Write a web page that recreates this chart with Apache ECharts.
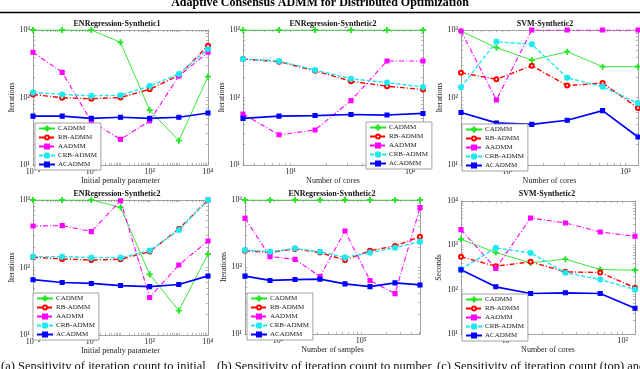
<!DOCTYPE html>
<html>
<head>
<meta charset="utf-8">
<script src="https://cdn.jsdelivr.net/npm/echarts@6/dist/echarts.min.js"></script>
<style>
  html, body { margin: 0; padding: 0; background: #fff; }
  #chart { width: 640px; height: 369px; }
</style>
</head>
<body>
<div id="chart"></div>
<script>
const seriesNames = ["CADMM", "RB-ADMM", "AADMM", "CRB-ADMM", "ACADMM"];

const penaltyX = [0.01, 0.1, 1, 10, 100, 1000, 10000];
const coresX = [4, 8, 16, 32, 64, 128];
const samplesX = [4000, 8000, 16000, 32000, 64000, 128000, 256000, 512000];

// one row per method, same order as seriesNames
const enr1Penalty = [
  [1000, 1000, 1000, 656, 65, 23, 204],
  [111, 99, 96, 100, 132, 213, 585],
  [467, 236, 44, 24, 45, 208, 467],
  [119, 111, 106, 108, 148, 223, 523],
  [53, 53, 49, 51, 49, 51, 59],
];
const enr2Cores = [
  [1000, 1000, 1000, 1000, 1000, 1000],
  [372, 340, 249, 174, 147, 131],
  [57, 28, 33, 90, 347, 347],
  [372, 347, 255, 190, 166, 143],
  [49, 53, 54, 56, 55, 58],
];
const svmCoresIters = [
  [960, 547, 359, 477, 286, 286],
  [233, 186, 296, 150, 164, 70],
  [966, 92, 1000, 1000, 1000, 1000],
  [142, 671, 614, 196, 145, 82],
  [60, 42, 40, 46, 64, 26],
];
const enr2Penalty = [
  [1000, 1000, 1000, 778, 79, 23, 158],
  [142, 134, 129, 132, 172, 372, 1000],
  [412, 417, 340, 977, 36, 109, 247],
  [145, 145, 140, 140, 178, 359, 1000],
  [66, 60, 58, 54, 52, 56, 75],
];
const enr2Samples = [
  [1000, 1000, 1000, 1000, 1000, 1000, 1000, 1000],
  [175, 165, 186, 164, 127, 175, 206, 284],
  [532, 143, 130, 72, 344, 63, 40, 769],
  [179, 169, 190, 169, 139, 164, 194, 239],
  [73, 63, 65, 66, 56, 51, 58, 54],
];
const svmCoresSeconds = [
  [1370, 687, 403, 487, 285, 275],
  [550, 339, 424, 252, 244, 110],
  [2264, 300, 4140, 3200, 2000, 1600],
  [290, 875, 676, 240, 170, 101],
  [280, 116, 82, 85, 82, 38],
];

const serif = "Liberation Serif, DejaVu Serif, serif";
const boxColor = "#8a8a8a";

const plusPath = "path://M4.3,0H5.7V4.3H10V5.7H5.7V10H4.3V5.7H0V4.3H4.3Z";
const starPath = "path://M4.3,0H5.7V4.3H10V5.7H5.7V10H4.3V5.7H0V4.3H4.3Z"
  + "M1.5,0.6L5,4.1L8.5,0.6L9.4,1.5L5.9,5L9.4,8.5L8.5,9.4L5,5.9L1.5,9.4L0.6,8.5L4.1,5L0.6,1.5Z";

const styles = [
  { color: "#22e622", width: 0.9, type: "solid", symbol: plusPath, size: 5 },
  { color: "#ff0000", width: 1.4, type: [5, 2, 1, 2], symbol: "emptyCircle", size: 4 },
  { color: "#ff00ff", width: 1.1, type: [5, 2, 1, 2], symbol: "rect", size: 4 },
  { color: "#1ee8f0", width: 1.4, type: [4, 2], symbol: starPath, size: 5 },
  { color: "#0000ff", width: 1.7, type: "solid", symbol: "rect", size: 4 },
];

const supMap = { "-": "⁻", "0": "⁰", "1": "¹", "2": "²", "3": "³", "4": "⁴", "5": "⁵" };

function logLabel(v) {
  var e = Math.round(Math.log10(v));
  if (Math.abs(Math.log10(v) - e) > 1e-6) return "";
  return "10" + String(e).split("").map((c) => supMap[c]).join("");
}

function tickVals(min, max) {
  var out = [];
  for (var d = Math.floor(Math.log10(min)); d <= Math.ceil(Math.log10(max)); d++) {
    for (var k = 1; k < 10; k++) {
      var v = k * Math.pow(10, d);
      if (v >= min * 0.999 && v <= max * 1.001) out.push(v);
    }
  }
  return out;
}

const panels = [
  { title: "ENRegression-Synthetic1", tx: 117, ty: 24, grid: [33, 30, 175, 135], x: penaltyX, rows: enr1Penalty,
    xr: [0.01, 10000], xl: [0.01, 1, 100, 10000], yr: [10, 1000], xname: "Initial penalty parameter", yname: "Iterations",
    ygap: 15, legend: [35, 123] },
  { title: "ENRegression-Synthetic2", tx: 333, ty: 24, grid: [243, 30, 180, 135], x: coresX, rows: enr2Cores,
    xr: [4, 128], xl: [10, 100], yr: [10, 1000], xname: "Number of cores", yname: "Iterations",
    ygap: 12, legend: [366, 122] },
  { title: "SVM-Synthetic2", tx: 545, ty: 24, grid: [461, 30, 177, 135], x: coresX, rows: svmCoresIters,
    xr: [4, 128], xl: [10, 100], yr: [10, 1000], xname: "Number of cores", yname: "Iterations",
    ygap: 14, legend: [462, 124] },
  { title: "ENRegression-Synthetic2", tx: 117, ty: 194, grid: [33, 200, 175, 135], x: penaltyX, rows: enr2Penalty,
    xr: [0.01, 10000], xl: [0.01, 1, 100, 10000], yr: [10, 1000], xname: "Initial penalty parameter", yname: "Iterations",
    ygap: 15, legend: [33, 293] },
  { title: "ENRegression-Synthetic2", tx: 332, ty: 194, grid: [245, 200, 175, 134], x: samplesX, rows: enr2Samples,
    xr: [4000, 512000], xl: [10000, 100000], yr: [10, 1000], xname: "Number of samples", yname: "Iterations",
    ygap: 14, legend: [247, 293] },
  { title: "SVM-Synthetic2", tx: 547, ty: 194, grid: [461, 201, 174, 133], x: coresX, rows: svmCoresSeconds,
    xr: [4, 128], xl: [10, 100], yr: [10, 10000], xname: "Number of cores", yname: "Seconds",
    ygap: 14, legend: [462, 294] },
];

var grids = [], xAxes = [], yAxes = [], series = [], legends = [], graphics = [];

function logAxis(gridIndex, pos, range, labels, name, gap) {
  return {
    type: "log",
    logBase: 10,
    gridIndex: gridIndex,
    position: pos,
    min: range[0],
    max: range[1],
    name: name || "",
    nameLocation: "middle",
    nameGap: gap || 0,
    nameTextStyle: { fontFamily: serif, fontSize: 8, color: "#222" },
    axisLine: { show: true, lineStyle: { color: boxColor, width: 0.8 } },
    axisTick: {
      show: true, inside: true, length: 2.2,
      customValues: tickVals(range[0], range[1]),
      lineStyle: { color: boxColor, width: 0.6 },
    },
    axisLabel: {
      show: !!labels,
      customValues: labels || [],
      formatter: logLabel,
      fontFamily: serif, fontSize: 8, color: "#222", margin: 3,
    },
    splitLine: { show: false },
    minorTick: { show: false },
  };
}

panels.forEach(function(p, gi) {
  grids.push({ left: p.grid[0], top: p.grid[1], width: p.grid[2], height: p.grid[3], show: false });
  var xi = xAxes.length, yi = yAxes.length;
  xAxes.push(logAxis(gi, "bottom", p.xr, p.xl, p.xname, 12));
  xAxes.push(logAxis(gi, "top", p.xr, null));
  var ylab = [];
  for (var v = p.yr[0]; v <= p.yr[1] * 1.001; v *= 10) ylab.push(v);
  yAxes.push(logAxis(gi, "left", p.yr, ylab, p.yname, p.ygap));
  yAxes.push(logAxis(gi, "right", p.yr, null));

  p.rows.forEach(function(row, k) {
    var s = styles[k];
    series.push({
      name: seriesNames[k],
      type: "line",
      xAxisIndex: xi,
      yAxisIndex: yi,
      data: p.x.map((x, i) => [x, row[i]]),
      symbol: s.symbol,
      symbolSize: s.size,
      showAllSymbol: true,
      color: s.color,
      lineStyle: { color: s.color, width: s.width, type: s.type },
      itemStyle: { color: s.color, borderColor: s.color, borderWidth: 1.1 },
      emphasis: { disabled: true },
      animation: false,
    });
  });

  legends.push({
    orient: "vertical",
    left: p.legend[0],
    top: p.legend[1],
    data: seriesNames,
    itemWidth: 16,
    itemHeight: 5,
    itemGap: 2,
    padding: [2, 4, 2, 3],
    backgroundColor: "#fff",
    borderColor: boxColor,
    borderWidth: 0.8,
    borderRadius: 0,
    selectedMode: false,
    textStyle: { fontFamily: serif, fontSize: 7, color: "#222", padding: [0, 0, 0, -2] },
  });

  graphics.push({
    type: "text", x: p.tx, y: p.ty,
    style: { text: p.title, font: "bold 8px " + serif, fill: "#111", align: "center", verticalAlign: "middle" },
  });
});

graphics.push({
  type: "text", x: 320, y: -3,
  style: { text: "Adaptive Consensus ADMM for Distributed Optimization", font: "bold 12px " + serif,
    fill: "#000", align: "center", verticalAlign: "top" },
});
graphics.push({
  type: "line", shape: { x1: 0, y1: 12.5, x2: 640, y2: 12.5 },
  style: { stroke: "#000", lineWidth: 1.3 },
});
[
  [1, "(a) Sensitivity of iteration count to initial"],
  [217, "(b) Sensitivity of iteration count to number"],
  [437, "(c) Sensitivity of iteration count (top) and"],
].forEach(function(c) {
  graphics.push({
    type: "text", x: c[0], y: 360,
    style: { text: c[1], font: "12.5px " + serif, fill: "#111", align: "left", verticalAlign: "top" },
  });
});

var chartDom = document.getElementById("chart");
var myChart = echarts.init(chartDom, null, { renderer: "canvas" });
myChart.setOption({
  animation: false,
  backgroundColor: "#fff",
  grid: grids,
  xAxis: xAxes,
  yAxis: yAxes,
  legend: legends,
  series: series,
  graphic: graphics,
});
</script>
</body>
</html>
